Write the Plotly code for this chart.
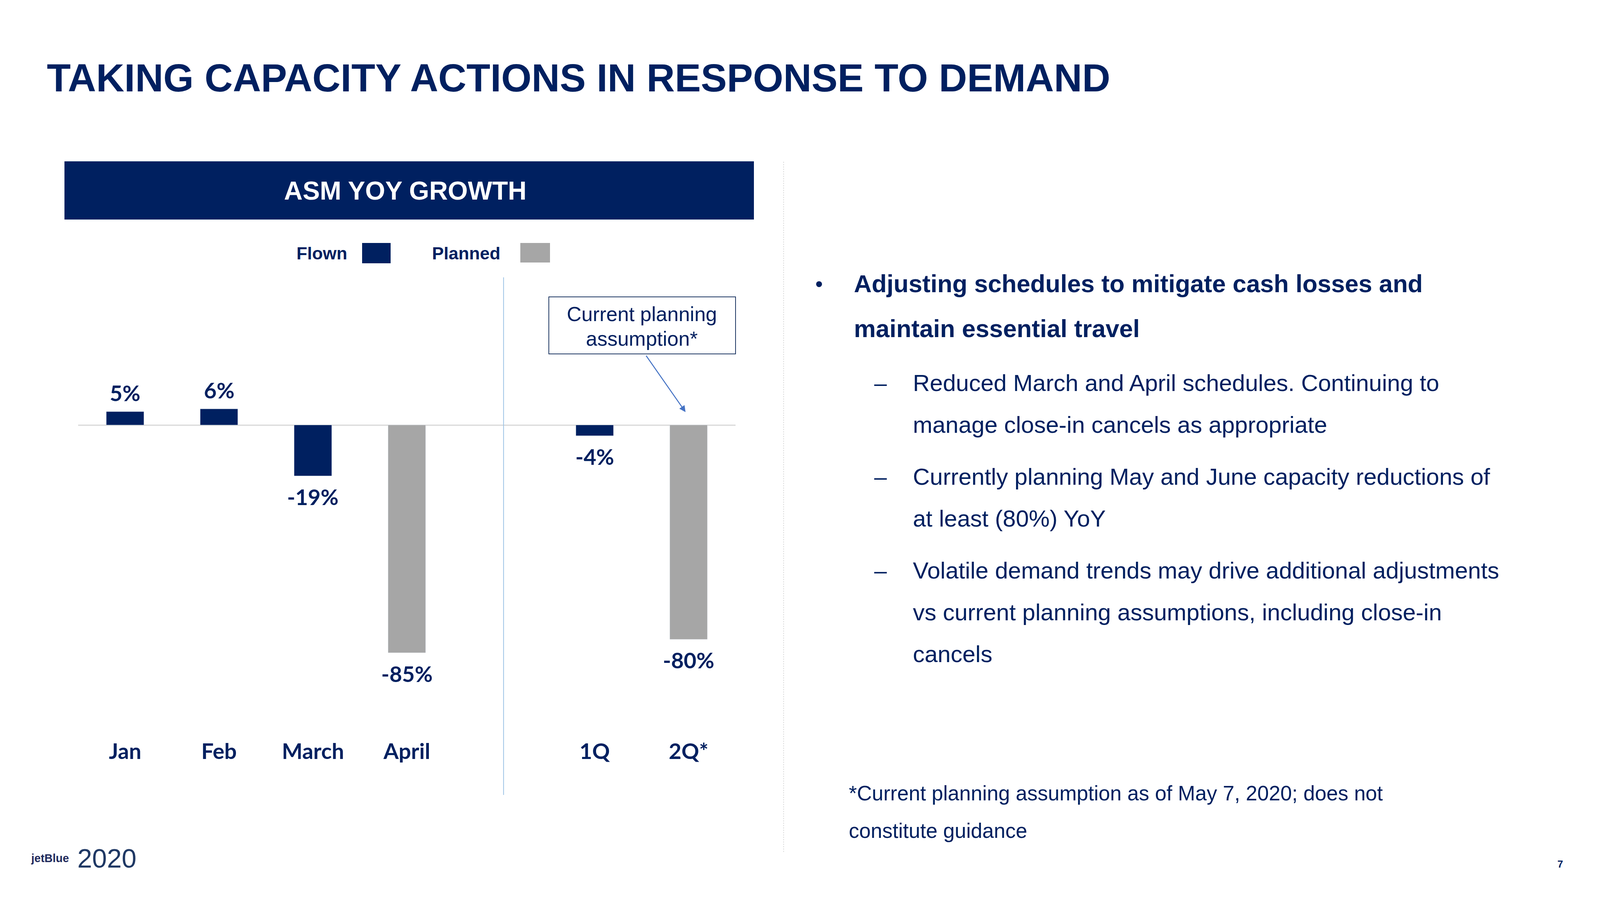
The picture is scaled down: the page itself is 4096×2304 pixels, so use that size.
import plotly.graph_objects as go

W, H = 4096, 2304
OFF = 8  # the page body margin shifts the figure by 8 px


def px(x):
    return (x - OFF) / W


def py(y):
    return 1 - (y - OFF) / H


NAVY = "#002060"
GRAY = "#A6A6A6"
SANS = "Liberation Sans, Arial, sans-serif"
LAB = "Lato, Noto Sans, sans-serif"

# ---------------- data ----------------
categories = ["Jan", "Feb", "March", "April", " ", "1Q", "2Q*"]
flown = [5, 6, -19, None, None, -4, None]
planned = [None, None, None, -85, None, None, -80]

title_text = "TAKING CAPACITY ACTIONS IN RESPONSE TO DEMAND"
chart_title = "ASM YOY GROWTH"
callout_lines = ["Current planning", "assumption*"]
heading_lines = ["Adjusting schedules to mitigate cash losses and",
                 "maintain essential travel"]
sub_bullets = [
    ["Reduced March and April schedules. Continuing to",
     "manage close-in cancels as appropriate"],
    ["Currently planning May and June capacity reductions of",
     "at least (80%) YoY"],
    ["Volatile demand trends may drive additional adjustments",
     "vs current planning assumptions, including close-in",
     "cancels"],
]
footnote_lines = ["*Current planning assumption as of May 7, 2020; does not",
                  "constitute guidance"]

# ---------------- layout geometry (output pixels) ----------------
plot_l, plot_r = 200, 1883
plot_t, plot_b = 700, 1880
zero_px = 1088
per_pct = 6.86
y_range = [-(plot_b - zero_px) / per_pct, (zero_px - plot_t) / per_pct]

fig = go.Figure()
fig.add_trace(go.Bar(x=categories, y=flown, name="Flown", marker_color=NAVY,
                     width=0.4, showlegend=False, hoverinfo="skip"))
fig.add_trace(go.Bar(x=categories, y=planned, name="Planned", marker_color=GRAY,
                     width=0.4, showlegend=False, hoverinfo="skip"))

annotations = []
shapes = []

# value labels
for series in (flown, planned):
    for c, v in zip(categories, series):
        if v is None:
            continue
        annotations.append(dict(
            x=c, y=v, xref="x", yref="y", text=f"<b>{v}%</b>", showarrow=False,
            xanchor="center", yanchor="middle", yshift=(48 if v > 0 else -53),
            font=dict(family=LAB, size=56, color=NAVY)))

# title
annotations.append(dict(x=px(118), y=py(199), xref="paper", yref="paper",
                        text=f"<b>{title_text}</b>", showarrow=False,
                        xanchor="left", yanchor="middle",
                        font=dict(family=SANS, size=100, color=NAVY)))

# chart header band
shapes.append(dict(type="rect", xref="paper", yref="paper",
                   x0=px(165), x1=px(1930), y0=py(562), y1=py(413),
                   fillcolor=NAVY, line=dict(width=0), layer="below"))
annotations.append(dict(x=px(1037), y=py(488), xref="paper", yref="paper",
                        text=f"<b>{chart_title}</b>", showarrow=False,
                        xanchor="center", yanchor="middle",
                        font=dict(family=SANS, size=66, color="white")))

# legend
annotations.append(dict(x=px(891), y=py(648), xref="paper", yref="paper",
                        text="<b>Flown</b>", showarrow=False,
                        xanchor="right", yanchor="middle",
                        font=dict(family=SANS, size=45, color=NAVY)))
shapes.append(dict(type="rect", xref="paper", yref="paper",
                   x0=px(927), x1=px(1000), y0=py(674), y1=py(622),
                   fillcolor=NAVY, line=dict(width=0)))
annotations.append(dict(x=px(1283), y=py(648), xref="paper", yref="paper",
                        text="<b>Planned</b>", showarrow=False,
                        xanchor="right", yanchor="middle",
                        font=dict(family=SANS, size=45, color=NAVY)))
shapes.append(dict(type="rect", xref="paper", yref="paper",
                   x0=px(1332), x1=px(1408), y0=py(672), y1=py(622),
                   fillcolor=GRAY, line=dict(width=0)))

# separator between months and quarters
shapes.append(dict(type="line", xref="x", yref="paper", x0=4.03, x1=4.03,
                   y0=py(2035), y1=py(710),
                   line=dict(color="#9DC3E6", width=2)))

# callout box
shapes.append(dict(type="rect", xref="paper", yref="paper",
                   x0=px(1405), x1=px(1883), y0=py(906), y1=py(760),
                   fillcolor="white", line=dict(color="#1F3864", width=2)))
for i, line in enumerate(callout_lines):
    annotations.append(dict(x=px(1643), y=py(804 + 63 * i), xref="paper", yref="paper",
                            text=line, showarrow=False, xanchor="center",
                            yanchor="middle",
                            font=dict(family=SANS, size=52, color=NAVY)))
annotations.append(dict(x=px(1755), y=py(1055), xref="paper", yref="paper",
                        text="", showarrow=True, ax=-102, ay=-146,
                        arrowhead=2, arrowsize=1.3, arrowwidth=2.5,
                        arrowcolor="#4472C4"))

# panel divider
shapes.append(dict(type="line", xref="paper", yref="paper", x0=px(2006), x1=px(2006),
                   y0=py(2181), y1=py(413),
                   line=dict(color="#D0D0D0", width=1.5, dash="dot")))

# right text
annotations.append(dict(x=px(2097), y=py(726), xref="paper", yref="paper",
                        text="•", showarrow=False, xanchor="center", yanchor="middle",
                        font=dict(family=SANS, size=56, color=NAVY)))
for i, line in enumerate(heading_lines):
    annotations.append(dict(x=px(2184), y=py(726 + 115 * i), xref="paper", yref="paper",
                            text=f"<b>{line}</b>", showarrow=False, xanchor="left",
                            yanchor="middle",
                            font=dict(family=SANS, size=63, color=NAVY)))

sub_y = [[980, 1087], [1220, 1327], [1460, 1567, 1674]]
for lines, ys in zip(sub_bullets, sub_y):
    annotations.append(dict(x=px(2254), y=py(ys[0]), xref="paper", yref="paper",
                            text="–", showarrow=False, xanchor="center", yanchor="middle",
                            font=dict(family=SANS, size=58, color=NAVY)))
    for line, yy in zip(lines, ys):
        annotations.append(dict(x=px(2335), y=py(yy), xref="paper", yref="paper",
                                text=line, showarrow=False, xanchor="left",
                                yanchor="middle",
                                font=dict(family=SANS, size=60, color=NAVY)))

for i, line in enumerate(footnote_lines):
    annotations.append(dict(x=px(2171), y=py(2030 + 96 * i), xref="paper", yref="paper",
                            text=line, showarrow=False, xanchor="left", yanchor="middle",
                            font=dict(family=SANS, size=53, color=NAVY)))

# page number
annotations.append(dict(x=px(3994), y=py(2212), xref="paper", yref="paper",
                        text="<b>7</b>", showarrow=False, xanchor="center", yanchor="middle",
                        font=dict(family=SANS, size=26, color=NAVY)))

# logo
annotations.append(dict(x=px(128), y=py(2197), xref="paper", yref="paper",
                        text="<b>jetBlue</b>", showarrow=False, xanchor="center",
                        yanchor="middle",
                        font=dict(family=SANS, size=29, color="#1F2A5C")))
annotations.append(dict(x=px(273), y=py(2197), xref="paper", yref="paper",
                        text="2020", showarrow=False, xanchor="center",
                        yanchor="middle",
                        font=dict(family=SANS, size=68, color="#1F3864")))

fig.update_layout(
    width=W, height=H,
    margin=dict(l=0, r=0, t=0, b=0),
    paper_bgcolor="white", plot_bgcolor="white",
    barmode="overlay",
    showlegend=False,
    annotations=annotations,
    shapes=shapes,
    xaxis=dict(domain=[px(plot_l), px(plot_r)], type="category",
               categoryorder="array", categoryarray=categories,
               range=[-0.5, 6.5], showgrid=False, zeroline=False, showline=False,
               ticks="", tickfont=dict(family=LAB, size=56, color=NAVY, weight="bold"),
               ticklabelstandoff=6, fixedrange=True),
    yaxis=dict(domain=[py(plot_b), py(plot_t)], range=y_range,
               showgrid=False, showticklabels=False, ticks="",
               zeroline=True, zerolinecolor="#D9D9D9", zerolinewidth=2.5,
               showline=False, fixedrange=True),
)

fig.write_html("out.html")
